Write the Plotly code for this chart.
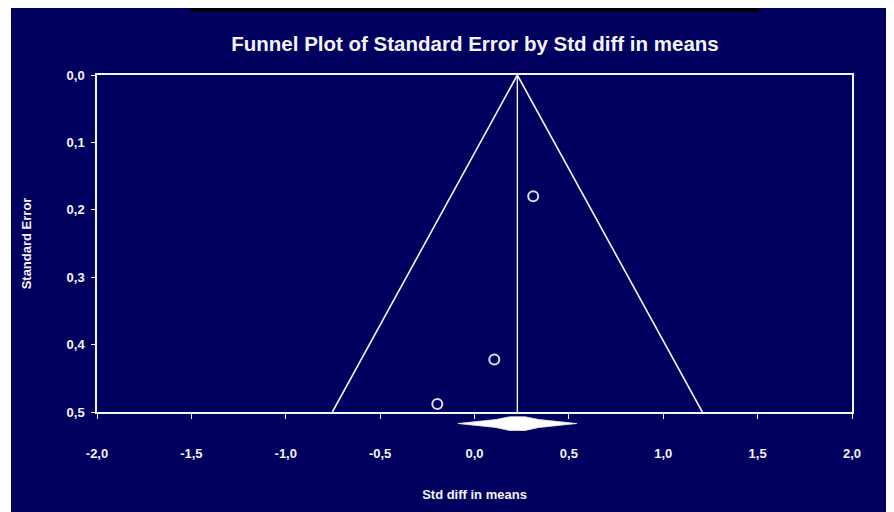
import plotly.graph_objects as go

# ---- data ----
std_diff = [0.311, 0.105, -0.197]
std_err = [0.180, 0.422, 0.488]
summary_effect = 0.227
summary_ci_low = -0.088
summary_ci_high = 0.542
funnel_se_max = 0.5
z_crit = 1.96
x_ticks = [-2.0, -1.5, -1.0, -0.5, 0.0, 0.5, 1.0, 1.5, 2.0]
x_tick_labels = ["-2,0", "-1,5", "-1,0", "-0,5", "0,0", "0,5", "1,0", "1,5", "2,0"]
y_ticks = [0.0, 0.1, 0.2, 0.3, 0.4, 0.5]
y_tick_labels = ["0,0", "0,1", "0,2", "0,3", "0,4", "0,5"]

NAVY = "#02005f"
WHITE = "#f4f4f8"
FONT = "Liberation Sans, Arial, sans-serif"

# the page body has an 8px margin; the figure fills the rest of the window
OFF = 8
W, H = 894 - OFF, 512 - OFF
L, R, T, B = 97 - OFF, 42, 75 - OFF, 100
pw, ph = W - L - R, H - T - B

def px_x(page_x):
    return (page_x - OFF - L) / pw

def px_y(page_y):
    return (H - B - (page_y - OFF)) / ph

fig = go.Figure()

# funnel
lo = summary_effect - z_crit * funnel_se_max
hi = summary_effect + z_crit * funnel_se_max
fig.add_trace(go.Scatter(x=[lo, summary_effect, hi], y=[funnel_se_max, 0, funnel_se_max],
                         mode="lines", line=dict(color=WHITE, width=1.6),
                         hoverinfo="skip", showlegend=False))
fig.add_trace(go.Scatter(x=[summary_effect, summary_effect], y=[0, funnel_se_max],
                         mode="lines", line=dict(color=WHITE, width=1.4),
                         hoverinfo="skip", showlegend=False))
# studies
fig.add_trace(go.Scatter(x=std_diff, y=std_err, mode="markers",
                         marker=dict(symbol="circle-open", size=10, color="#dcdce8",
                                     line=dict(color="#dcdce8", width=2)),
                         showlegend=False))

# summary diamond (below axis)
hw = (summary_ci_high - summary_ci_low) / 2
c = summary_effect
yc = px_y(423.5)
pts = [
    (summary_ci_low, yc),
    (c - 0.36 * hw, px_y(419.5)),
    (c - 0.13 * hw, px_y(416.8)),
    (c + 0.13 * hw, px_y(416.8)),
    (c + 0.36 * hw, px_y(419.5)),
    (summary_ci_high, yc),
    (c + 0.36 * hw, px_y(427.5)),
    (c + 0.13 * hw, px_y(430.5)),
    (c - 0.13 * hw, px_y(430.5)),
    (c - 0.36 * hw, px_y(427.5)),
]
path = "M " + " L ".join(f"{x},{y}" for x, y in pts) + " Z"
shapes = [
    dict(type="path", xref="x", yref="paper", path=path,
         fillcolor="#ffffff", line=dict(color="#e8e8f0", width=0.8), layer="above"),
    # white strip on the left of the screenshot (adds to the page margin)
    dict(type="rect", xref="paper", yref="paper", x0=px_x(OFF), x1=px_x(11),
         y0=px_y(512), y1=px_y(OFF), fillcolor="#ffffff", line=dict(width=0), layer="above"),
    # black rule at the top
    dict(type="rect", xref="paper", yref="paper", x0=px_x(190), x1=px_x(759),
         y0=px_y(11.5), y1=px_y(OFF), fillcolor="#000000", line=dict(width=0), layer="above"),
]

axis_common = dict(
    showgrid=False, zeroline=False, showline=True, linecolor=WHITE, linewidth=1.5,
    mirror=True, ticks="outside", tickcolor=WHITE, tickwidth=1.3,
    tickfont=dict(family=FONT, size=13, color=WHITE, weight="bold"),
)

fig.update_layout(
    width=W, height=H,
    margin=dict(l=L, r=R, t=T, b=B),
    paper_bgcolor=NAVY, plot_bgcolor=NAVY,
    title=dict(text="<b>Funnel Plot of Standard Error by Std diff in means</b>",
               x=(475 - OFF) / W, xanchor="center",
               y=1 - (44 - OFF) / H, yanchor="middle",
               font=dict(family=FONT, size=20.5, color=WHITE)),
    xaxis=dict(axis_common, range=[-2, 2], tickvals=x_ticks, ticktext=x_tick_labels,
               ticklen=5, ticklabelstandoff=24,
               title=dict(text="<b>Std diff in means</b>", standoff=30,
                          font=dict(family=FONT, size=13, color=WHITE))),
    yaxis=dict(axis_common, range=[0.5, 0], tickvals=y_ticks, ticktext=y_tick_labels,
               ticklen=4, ticklabelstandoff=4,
               title=dict(text="<b>Standard Error</b>", standoff=32,
                          font=dict(family=FONT, size=13, color=WHITE))),
    shapes=shapes,
)

fig.write_html("out.html")
